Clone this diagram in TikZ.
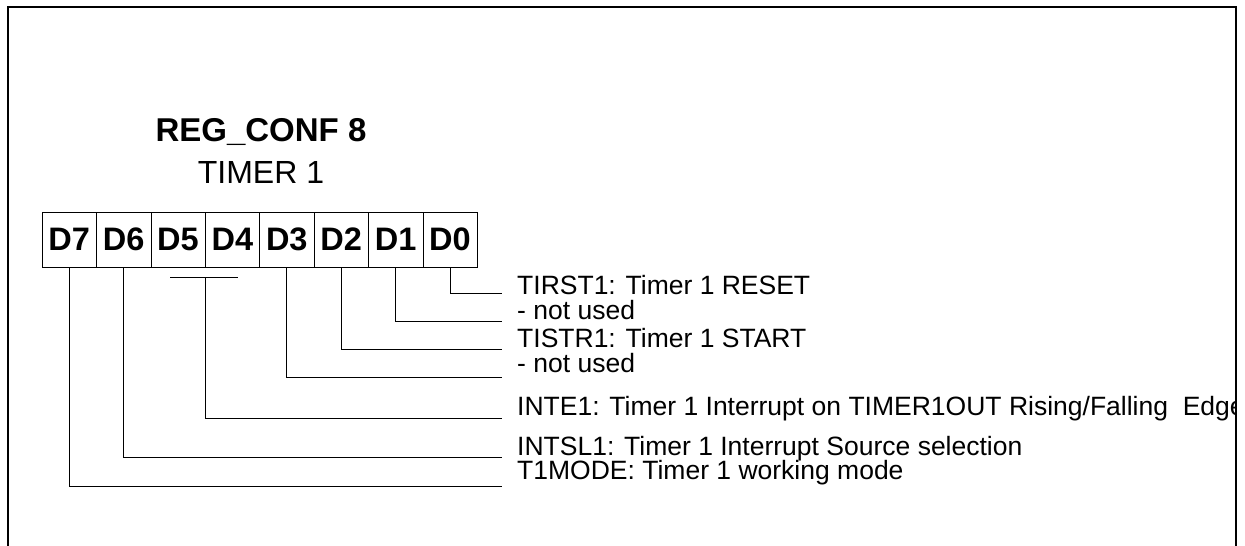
\documentclass[tikz,border=0pt]{standalone}
\usepackage{fontspec}
\setmainfont{Liberation Sans}
\usetikzlibrary{positioning}

\begin{document}
\begin{tikzpicture}[x=1pt,y=-1pt,
    bitcell/.style={draw, minimum width=54.4pt, minimum height=55pt, inner sep=0pt,
      font=\fontsize{32.5}{32.5}\selectfont\bfseries},
    desc/.style={anchor=base west, inner sep=0pt, font=\fontsize{26.5}{26.5}\selectfont},
    lead/.style={line width=0.9pt}]
    \useasboundingbox (0,0) rectangle (1245,546);
    \node[font=\fontsize{33}{33}\selectfont\bfseries] (title) at (261,132) {REG\_CONF 8};
    \node[font=\fontsize{32}{32}\selectfont] (sub) at (261,172) {TIMER 1};
    \foreach \b [count=\i from 0] in {7,...,0}
        \node[bitcell] (d\b) at ({69.2+54.4*\i},239.5) {D\b};
    % bit descriptions
    \node[desc] (tirst) at (517,294) {TIRST1: Timer 1 RESET};
    \node[desc] (nu1) at (517,319) {- not used};
    \node[desc] (tistr) at (517,347) {TISTR1: Timer 1 START};
    \node[desc] (nu3) at (517,372) {- not used};
    \begin{scope}
        \clip (0,0) rectangle (1235,546);
        \node[desc] (inte) at (517,415) {INTE1: Timer 1 Interrupt on TIMER1OUT Rising/Falling\ \ Edge};
    \end{scope}
    \node[desc] (intsl) at (517,455) {INTSL1: Timer 1 Interrupt Source selection};
    \node[desc] (tmode) at (517,479) {T1MODE: Timer 1 working mode};
    % lead ends
    \coordinate (e0) at (502,293);
    \coordinate (e1) at (502,321);
    \coordinate (e2) at (502,349);
    \coordinate (e3) at (502,377);
    \coordinate (e54) at (502,418);
    \coordinate (e6) at (502,457);
    \coordinate (e7) at (502,486);
    \coordinate (b54) at ([yshift=-10pt]d5.south east);
    \draw[lead] (d0.south) |- (e0);
    \draw[lead] (d1.south) |- (e1);
    \draw[lead] (d2.south) |- (e2);
    \draw[lead] (d3.south) |- (e3);
    \draw[lead] ([xshift=-35pt]b54) -- ([xshift=33pt]b54);
    \draw[lead] (b54) |- (e54);
    \draw[lead] (d6.south) |- (e6);
    \draw[lead] (d7.south) |- (e7);
    % frame
    \draw[line width=2.8pt] (8,546) -- (8,7) -- (1236,7) -- (1236,546);
\end{tikzpicture}
\end{document}
